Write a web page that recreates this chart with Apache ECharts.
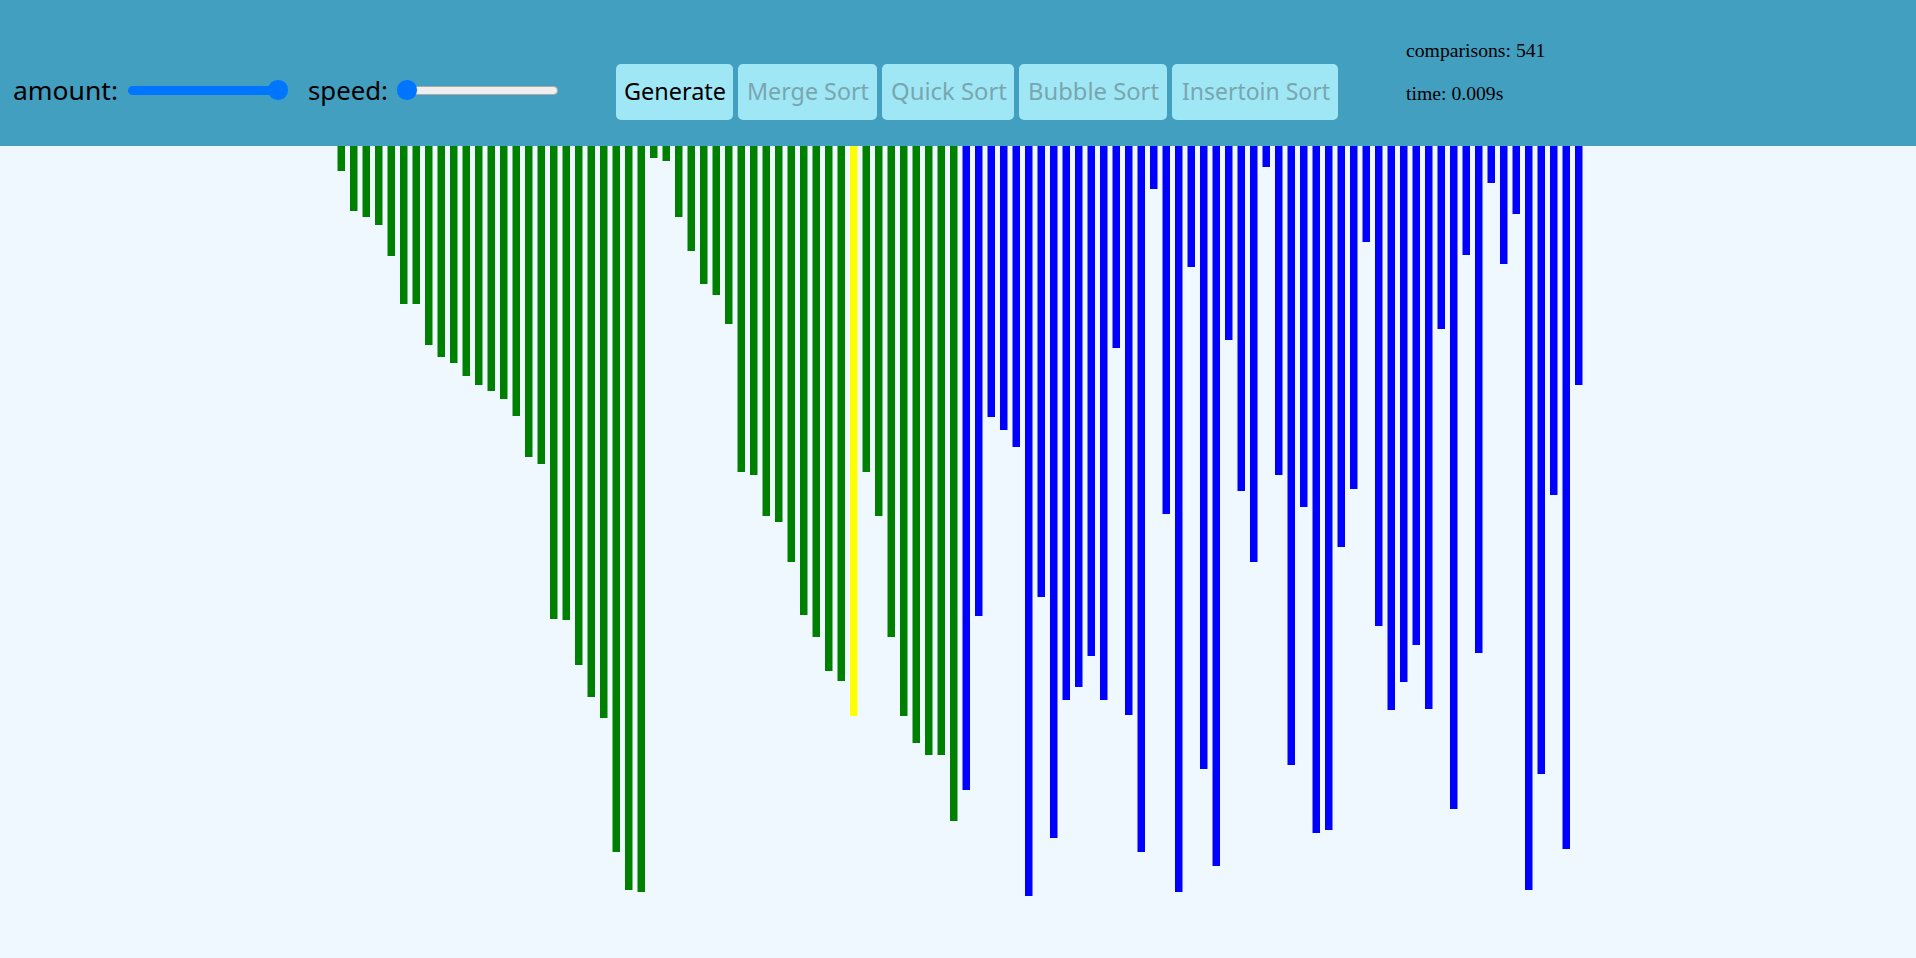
<!DOCTYPE html>
<html>
<head>
<meta charset="utf-8">
<title>Sorting Visualizer</title>
<script src="https://cdn.jsdelivr.net/npm/echarts@6/dist/echarts.min.js"></script>
<style>
  html, body { margin: 0; padding: 0; width: 1916px; height: 958px; overflow: hidden; background: #f0f8ff; }
  .header { position: absolute; left: 0; top: 0; width: 1916px; height: 146px; background: #429fc0; }
  .txt { position: absolute; white-space: nowrap; line-height: 1; transform-origin: 0 0; font-family: "Noto Sans", sans-serif; color: #000; }
  .btn { position: absolute; top: 64px; height: 56px; background: #a0e7f5; border-radius: 5px; }
  .serif { position: absolute; white-space: nowrap; line-height: 1; font-family: "Liberation Serif", serif; font-size: 19.7px; color: #000; }
  .track { position: absolute; top: 85.5px; height: 9px; border-radius: 4.5px; box-sizing: border-box; }
  .thumb { position: absolute; top: 80.25px; width: 19.5px; height: 19.5px; border-radius: 50%; background: #0075ff; }
  #chart { position: absolute; left: 0; top: 146px; width: 1916px; height: 812px; }
</style>
</head>
<body>
<div class="header">
  <span class="txt" data-w="105" style="left:13px; top:78px; font-size:25px;">amount:</span>
  <div class="track" style="left:128px; width:159px; background:#0075ff;"></div>
  <div class="thumb" style="left:268px;"></div>

  <span class="txt" data-w="80" style="left:308px; top:78px; font-size:25px;">speed:</span>
  <div class="track" style="left:398px; width:160px; background:#efefef; border:1px solid #aaaaaa;"></div>
  <div class="thumb" style="left:397px;"></div>

  <div class="btn" style="left:616px; width:117px;"></div>
  <div class="btn" style="left:738px; width:139px;"></div>
  <div class="btn" style="left:882px; width:132px;"></div>
  <div class="btn" style="left:1019px; width:148px;"></div>
  <div class="btn" style="left:1172px; width:166px;"></div>

  <span class="txt" data-w="102" style="left:624px; top:79px; font-size:24px;">Generate</span>
  <span class="txt" data-w="122" style="left:747px; top:79px; font-size:24px; color:#78a6b0;">Merge Sort</span>
  <span class="txt" data-w="116" style="left:891px; top:79px; font-size:24px; color:#78a6b0;">Quick Sort</span>
  <span class="txt" data-w="131" style="left:1028px; top:79px; font-size:24px; color:#78a6b0;">Bubble Sort</span>
  <span class="txt" data-w="148" style="left:1182px; top:79px; font-size:24px; color:#78a6b0;">Insertoin Sort</span>

  <span class="serif" style="left:1406px; top:41px;">comparisons: 541</span>
  <span class="serif" style="left:1406px; top:84px;">time: 0.009s</span>
</div>
<div id="chart"></div>
<script>
// stretch the header labels to the widths seen in the picture
document.querySelectorAll(".txt").forEach((el) => {
  const w = el.getBoundingClientRect().width;
  el.style.transform = "scaleX(" + el.dataset.w / w + ")";
});

// left half: already merged part (green), one bar being compared (yellow)
const mergedHeights = [
  25, 65, 71, 79, 110, 158, 158, 199, 211, 217,
  230, 239, 245, 253, 270, 311, 318, 473, 474, 519,
  551, 572, 706, 744, 746, 12, 15, 71, 105, 138,
  149, 178, 326, 329, 370, 376, 416, 469, 491, 525,
  535, 570, 326, 370, 491, 570, 597, 609, 609, 675,
];
// right half: not sorted yet (blue)
const pendingHeights = [
  644, 470, 271, 284, 301, 750, 451, 692, 554, 541,
  510, 554, 202, 569, 706, 43, 368, 746, 121, 623,
  720, 194, 345, 416, 21, 329, 619, 361, 687, 684,
  401, 343, 96, 480, 564, 536, 499, 563, 183, 663,
  109, 507, 37, 118, 68, 744, 628, 349, 703, 239,
];
const activeIndex = 41;
const colorMerged = "#008000";
const colorActive = "#ffff00";
const colorPending = "#0000ff";

const barData = mergedHeights
  .map((v, i) => ({
    value: v,
    itemStyle: { color: i === activeIndex ? colorActive : colorMerged },
  }))
  .concat(pendingHeights.map((v) => ({ value: v, itemStyle: { color: colorPending } })));
const categories = barData.map((d, i) => String(i + 1));

const myChart = echarts.init(document.getElementById("chart"));
myChart.setOption({
  animation: false,
  grid: { left: 335, width: 1250, top: 0, height: 812 },
  xAxis: { type: "category", data: categories, show: false },
  yAxis: { type: "value", inverse: true, min: 0, max: 812, show: false },
  series: [
    {
      type: "bar",
      data: barData,
      barWidth: "60%",
    },
  ],
});
</script>
</body>
</html>
